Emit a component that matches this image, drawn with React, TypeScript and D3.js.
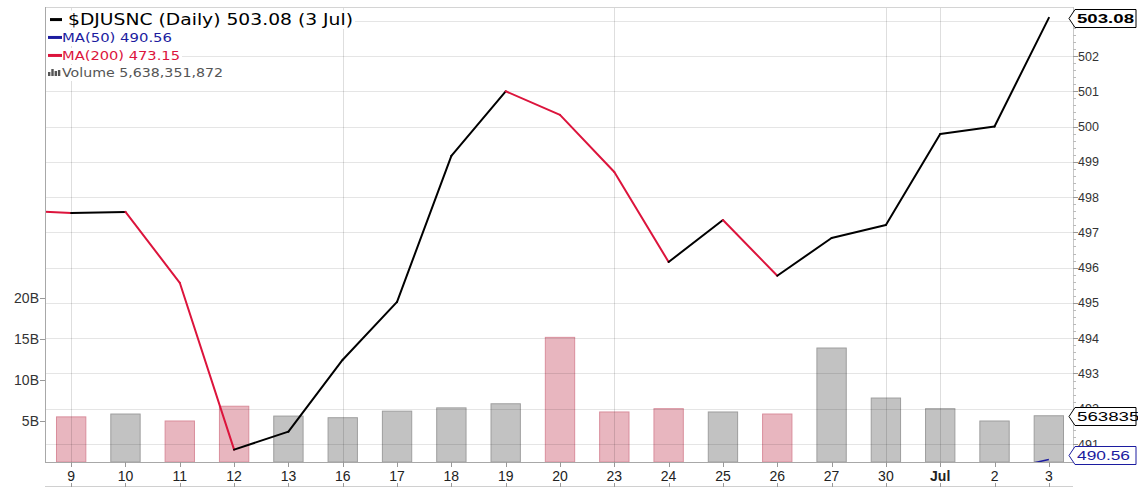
import React from 'react';
import * as d3 from 'd3';

// trading days, June 9 .. July 3
const dates = ['9', '10', '11', '12', '13', '16', '17', '18', '19', '20', '23', '24', '25', '26', '27', '30', 'Jul', '2', '3'];
const weekLines = ['9', '16', '23', '30', 'Jul'];
const closes = [
  497.55, 497.58, 495.57, 490.84, 491.35, 493.39, 495.03, 499.17, 501.0, 500.33,
  498.71, 496.16, 497.35, 495.77, 496.84, 497.21, 499.79, 500.0, 503.08,
];
const prevClose = 497.62; // June 6, off the left edge
const volumes = [
  5.5e9, 5.85e9, 5.0e9, 6.8e9, 5.6e9, 5.4e9, 6.2e9, 6.6e9, 7.1e9, 15.2e9,
  6.1e9, 6.5e9, 6.1e9, 5.85e9, 13.9e9, 7.8e9, 6.5e9, 5.0e9, 5638351872,
];
const ma50Dates = ['2', '3'];
const ma50 = [490.22, 490.56];
const ma200Last = 473.15;
const priceTicks = [491, 492, 493, 494, 495, 496, 497, 498, 499, 500, 501, 502];
const priceGrid = [491, 492, 493, 494, 495, 496, 497, 498, 499, 500, 501, 502, 503];
const volTicks = [5e9, 10e9, 15e9, 20e9];

const W = 1138;
const H = 487;
const left = 45;
const right = 1073;
const top = 7;
const bottom = 462;

const UP = '#000000';
const DOWN = '#dc143c';
const sans = '"Liberation Sans", Arial, sans-serif';
const legendFont = '"DejaVu Sans", Verdana, sans-serif';

export default function App() {
  const x = d3
    .scaleBand<string>()
    .domain(dates)
    .range([44, 1076])
    .paddingInner(0.46)
    .paddingOuter(0.23);
  const cx = (d: string) => (x(d) as number) + x.bandwidth() / 2;
  const y = d3.scaleLinear().domain([491, 502]).range([444, 56]);
  const yv = d3.scaleLinear().domain([0, 20e9]).range([bottom, 298]);

  const pts = [{ x: cx(dates[0]) - x.step(), v: prevClose }].concat(
    dates.map((d, i) => ({ x: cx(d), v: closes[i] }))
  );
  const segs = pts.slice(1).map((p, i) => ({ a: pts[i], b: p, down: p.v < pts[i].v }));

  const maLine = d3
    .line<number>()
    .x((_, i) => cx(ma50Dates[i]))
    .y((v) => y(v));

  const fmt = d3.format(',');
  const lastClose = closes[closes.length - 1];
  const lastVol = volumes[volumes.length - 1];
  const lastMa = ma50[ma50.length - 1];

  const tag = (cy: number) =>
    `M${right - 4},${cy} L${right + 2},${cy - 9} L${W - 2},${cy - 9} L${W - 2},${cy + 9} L${right + 2},${cy + 9} Z`;

  const legend = [
    { text: `$DJUSNC (Daily) ${lastClose.toFixed(2)} (3 Jul)`, color: '#000', size: 15.5, y: 25, len: 285, tx: 68, dash: [50, 62] },
    { text: `MA(50) ${lastMa.toFixed(2)}`, color: '#1c1ca0', size: 13, y: 42, len: 110, tx: 62, dash: [48, 62] },
    { text: `MA(200) ${ma200Last.toFixed(2)}`, color: DOWN, size: 13, y: 60, len: 118, tx: 62, dash: [48, 62] },
    { text: `Volume ${fmt(lastVol)}`, color: '#555', size: 13, y: 77, len: 161, tx: 62, dash: null },
  ];

  return (
    <svg width={W} height={H} style={{ position: 'absolute', left: 0, top: 0, background: '#fff' }}>
      <defs>
        <clipPath id="plot">
          <rect x={left} y={top} width={right - left} height={bottom - top} />
        </clipPath>
      </defs>

      {/* volume bars */}
      {dates.map((d, i) => {
        const prev = i === 0 ? prevClose : closes[i - 1];
        const down = closes[i] < prev;
        return (
          <rect
            key={'v' + d}
            x={x(d)}
            y={yv(volumes[i])}
            width={x.bandwidth()}
            height={bottom - yv(volumes[i])}
            fill={down ? '#e8b6bf' : '#c2c2c2'}
            stroke={down ? '#d98e9c' : '#9e9e9e'}
          />
        );
      })}

      {/* grid */}
      {priceGrid.map((p) => (
        <line key={'g' + p} x1={left} x2={right} y1={Math.round(y(p)) + 0.5} y2={Math.round(y(p)) + 0.5} stroke="rgba(0,0,0,0.1)" />
      ))}
      {weekLines.map((d) => (
        <line key={'w' + d} x1={Math.round(cx(d)) + 0.5} x2={Math.round(cx(d)) + 0.5} y1={top} y2={bottom} stroke="rgba(0,0,0,0.13)" />
      ))}

      {/* price line */}
      <g clipPath="url(#plot)">
        {segs.map((s, i) => (
          <line
            key={'s' + i}
            x1={s.a.x}
            y1={y(s.a.v)}
            x2={s.b.x}
            y2={y(s.b.v)}
            stroke={s.down ? DOWN : UP}
            strokeWidth={2}
            strokeLinecap="round"
          />
        ))}
        <path d={maLine(ma50) || ''} fill="none" stroke="#1c1ca0" strokeWidth={1.5} />
      </g>

      {/* frame */}
      <line x1={left} x2={right} y1={top + 0.5} y2={top + 0.5} stroke="#d4d4d4" />
      <line x1={left + 0.5} x2={left + 0.5} y1={top} y2={bottom} stroke="#a8a8a8" />
      <line x1={left} x2={right} y1={bottom + 0.5} y2={bottom + 0.5} stroke="#a8a8a8" />
      <line x1={right + 0.5} x2={right + 0.5} y1={top} y2={bottom} stroke="#c8c8c8" />
      {d3.range(491, 503.2, 0.2).map((p, i) => (
        <line key={'m' + i} x1={right} x2={right + 3} y1={Math.round(y(p)) + 0.5} y2={Math.round(y(p)) + 0.5} stroke="#bbb" />
      ))}
      <line x1={left} x2={right} y1={486.5} y2={486.5} stroke="#d0d0d0" />

      {/* right price axis */}
      {priceTicks.map((p) => (
        <g key={'p' + p}>
          <line x1={right} x2={right + 5} y1={Math.round(y(p)) + 0.5} y2={Math.round(y(p)) + 0.5} stroke="#999" />
          <text x={right + 5} y={y(p) + 4.5} fontSize={12.5} fontFamily={sans} fill="#333">
            {p}
          </text>
        </g>
      ))}

      {/* left volume axis */}
      {volTicks.map((v) => (
        <g key={'vt' + v}>
          <line x1={left - 5} x2={left} y1={Math.round(yv(v)) + 0.5} y2={Math.round(yv(v)) + 0.5} stroke="#999" />
          <text x={left - 6} y={yv(v) + 5} fontSize={14} fontFamily={sans} fill="#333" textAnchor="end">
            {v / 1e9}B
          </text>
        </g>
      ))}

      {/* x axis */}
      {dates.map((d) => (
        <g key={'x' + d}>
          <line x1={Math.round(cx(d)) + 0.5} x2={Math.round(cx(d)) + 0.5} y1={bottom} y2={bottom + 5} stroke="#999" />
          <line x1={Math.round(cx(d)) + 0.5} x2={Math.round(cx(d)) + 0.5} y1={483} y2={487} stroke="#999" />
          <text
            x={cx(d)}
            y={481}
            fontSize={14}
            fontFamily={sans}
            fill="#222"
            textAnchor="middle"
            fontWeight={d === 'Jul' ? 'bold' : 'normal'}
          >
            {d}
          </text>
        </g>
      ))}

      {/* value tags */}
      <path d={tag(Math.round(y(lastClose)) + 0.5)} fill="#fff" stroke="#000" />
      <text x={right + 4} y={y(lastClose) + 5} fontSize={13} fontWeight="bold" fontFamily={sans} fill="#000" textLength={57} lengthAdjust="spacingAndGlyphs">
        {lastClose.toFixed(2)}
      </text>
      <path d={tag(Math.round(yv(lastVol)) + 0.5)} fill="#fff" stroke="#000" />
      <text x={right + 4} y={yv(lastVol) + 5} fontSize={13} fontFamily={sans} fill="#000" textLength={104} lengthAdjust="spacingAndGlyphs">
        {String(lastVol)}
      </text>
      <path d={tag(Math.min(Math.round(y(lastMa)), bottom - 7) + 0.5)} fill="#fff" stroke="#1c1ca0" />
      <text x={right + 4} y={Math.min(y(lastMa), bottom - 7) + 5} fontSize={13} fontFamily={sans} fill="#1c1ca0" textLength={53} lengthAdjust="spacingAndGlyphs">
        {lastMa.toFixed(2)}
      </text>

      {/* legend */}
      {legend.map((l, i) => (
        <g key={'l' + i}>
          <rect x={left + 1} y={l.y - l.size + 1} width={l.tx + l.len - left + 1} height={l.size + 3} fill="#fff" />
          {l.dash ? (
            <line x1={l.dash[0]} x2={l.dash[1]} y1={l.y - l.size * 0.35} y2={l.y - l.size * 0.35} stroke={l.color} strokeWidth={3} />
          ) : (
            <g fill="#555">
              {[4, 7, 5, 6].map((h, k) => (
                <rect key={k} x={48 + k * 3.3} y={l.y - h - 1} width={2.4} height={h} />
              ))}
            </g>
          )}
          <text x={l.tx} y={l.y} fontSize={l.size} fontFamily={legendFont} fill={l.color} textLength={l.len} lengthAdjust="spacingAndGlyphs">
            {l.text}
          </text>
        </g>
      ))}
    </svg>
  );
}
